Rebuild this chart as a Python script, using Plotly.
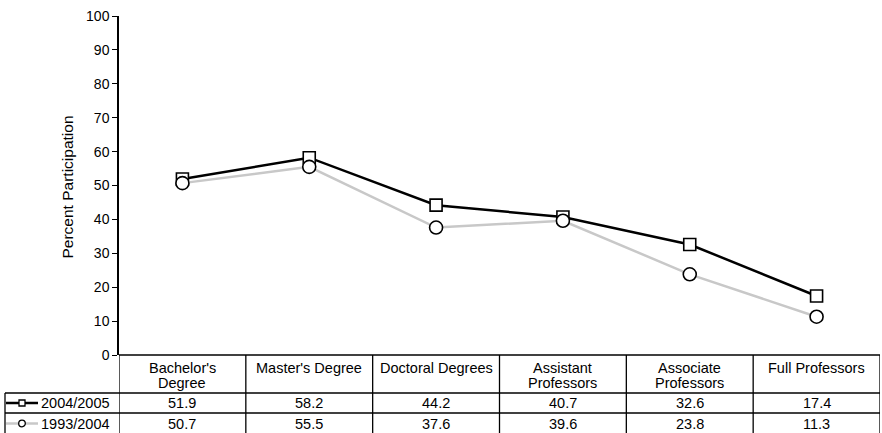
import plotly.graph_objects as go

# Data
categories = ["Bachelor's Degree", "Master's Degree", "Doctoral Degrees",
              "Assistant Professors", "Associate Professors", "Full Professors"]
header_labels = ["Bachelor's\nDegree", "Master's Degree", "Doctoral Degrees",
                 "Assistant\nProfessors", "Associate\nProfessors", "Full Professors"]
series_names = ["2004/2005", "1993/2004"]
values_2004_2005 = [51.9, 58.2, 44.2, 40.7, 32.6, 17.4]
values_1993_2004 = [50.7, 55.5, 37.6, 39.6, 23.8, 11.3]
y_ticks = list(range(0, 101, 10))

W, H = 882, 433
FONT = "Liberation Sans, Arial, Helvetica, sans-serif"


def px_x(px):
    return px / W


def px_y(py):
    return 1 - py / H


# plot area in pixels
PLOT_L, PLOT_R, PLOT_T, PLOT_B = 119, 880, 16, 355
# table rows (pixel y)
ROW_HDR_B, ROW1_B, ROW2_B = 393, 413, 433
TABLE_L = 5
HDR_LINE1, HDR_STEP = 367.5, 15.5

xs = list(range(len(categories)))

fig = go.Figure()
fig.add_trace(go.Scatter(
    x=xs, y=values_2004_2005, name=series_names[0], mode="lines+markers",
    line=dict(color="black", width=2.5),
    marker=dict(symbol="square", size=12, color="white",
                line=dict(color="black", width=1.6)),
    cliponaxis=False, showlegend=False))
fig.add_trace(go.Scatter(
    x=xs, y=values_1993_2004, name=series_names[1], mode="lines+markers",
    line=dict(color="#c8c8c8", width=2.5),
    marker=dict(symbol="circle", size=13, color="white",
                line=dict(color="black", width=1.6)),
    cliponaxis=False, showlegend=False))

shapes = []
line_style = dict(color="black", width=1.3)

# table top edge (x axis baseline)
shapes.append(dict(type="line", xref="paper", yref="paper",
                   x0=px_x(PLOT_L), x1=px_x(PLOT_R), y0=px_y(PLOT_B), y1=px_y(PLOT_B),
                   line=line_style))
# column boundaries
for i in range(len(categories) + 1):
    shapes.append(dict(type="line", xref="x", yref="paper",
                       x0=i - 0.5, x1=i - 0.5, y0=px_y(PLOT_B), y1=0,
                       line=line_style))
# row boundaries including legend column
for py in (ROW_HDR_B, ROW1_B):
    shapes.append(dict(type="line", xref="paper", yref="paper",
                       x0=px_x(TABLE_L), x1=px_x(PLOT_R), y0=px_y(py), y1=px_y(py),
                       line=line_style))
# legend column left edge
shapes.append(dict(type="line", xref="paper", yref="paper",
                   x0=px_x(TABLE_L), x1=px_x(TABLE_L), y0=px_y(ROW_HDR_B), y1=0,
                   line=line_style))

# legend keys
row_centers = [(ROW_HDR_B + ROW1_B) / 2, (ROW1_B + ROW2_B) / 2 + 0.5]
key_x0, key_x1, key_c = 6, 38, 22
shapes.append(dict(type="line", xref="paper", yref="paper",
                   x0=px_x(key_x0), x1=px_x(key_x1),
                   y0=px_y(row_centers[0]), y1=px_y(row_centers[0]),
                   line=dict(color="black", width=2.5)))
shapes.append(dict(type="rect", xref="paper", yref="paper",
                   x0=px_x(key_c - 3), x1=px_x(key_c + 3),
                   y0=px_y(row_centers[0] - 3), y1=px_y(row_centers[0] + 3),
                   fillcolor="white", line=dict(color="black", width=1.3)))
shapes.append(dict(type="line", xref="paper", yref="paper",
                   x0=px_x(key_x0), x1=px_x(key_x1),
                   y0=px_y(row_centers[1]), y1=px_y(row_centers[1]),
                   line=dict(color="#c8c8c8", width=2.5)))
shapes.append(dict(type="circle", xref="paper", yref="paper",
                   x0=px_x(key_c - 3.3), x1=px_x(key_c + 3.3),
                   y0=px_y(row_centers[1] - 3.3), y1=px_y(row_centers[1] + 3.3),
                   fillcolor="white", line=dict(color="black", width=1.3)))

annotations = []
tfont = dict(family=FONT, size=14.5, color="black")
# column headers, one annotation per text line for tight line spacing
for i, lab in enumerate(header_labels):
    for k, part in enumerate(lab.split("\n")):
        annotations.append(dict(x=i, y=px_y(HDR_LINE1 + k * HDR_STEP), xref="x", yref="paper",
                                text=part, showarrow=False, xanchor="center",
                                yanchor="middle", font=tfont))
# value rows and series labels
for row, vals in enumerate([values_2004_2005, values_1993_2004]):
    for i, v in enumerate(vals):
        annotations.append(dict(x=i, y=px_y(row_centers[row]), xref="x", yref="paper",
                                text=f"{v:.1f}", showarrow=False, xanchor="center",
                                yanchor="middle", font=tfont))
    annotations.append(dict(x=px_x(38.5), y=px_y(row_centers[row]), xref="paper", yref="paper",
                            text=series_names[row], showarrow=False, xanchor="left",
                            yanchor="middle", font=tfont))

# y-axis title
annotations.append(dict(x=px_x(67), y=px_y((PLOT_T + PLOT_B) / 2 + 2), xref="paper", yref="paper",
                        text="Percent Participation", showarrow=False, textangle=-90,
                        xanchor="center", yanchor="middle",
                        font=dict(family=FONT, size=15.5, color="black")))

fig.update_layout(
    width=W, height=H, autosize=False,
    margin=dict(l=0, r=0, t=0, b=0, autoexpand=False),
    paper_bgcolor="white", plot_bgcolor="white",
    shapes=shapes, annotations=annotations,
    xaxis=dict(domain=[px_x(PLOT_L), px_x(PLOT_R)], range=[-0.5, len(categories) - 0.5],
               showticklabels=False, ticks="", showgrid=False, zeroline=False,
               showline=False, fixedrange=True, automargin=False),
    yaxis=dict(domain=[px_y(PLOT_B), px_y(PLOT_T)], range=[0, 100],
               tickvals=y_ticks, ticks="outside", ticklen=5, tickwidth=1.3,
               tickcolor="black", showline=True, linecolor="black", linewidth=1.5,
               showgrid=False, zeroline=False, automargin=False,
               tickfont=dict(family=FONT, size=14, color="black"), fixedrange=True),
    showlegend=False,
)

fig.write_html("out.html", config={"displayModeBar": False})
